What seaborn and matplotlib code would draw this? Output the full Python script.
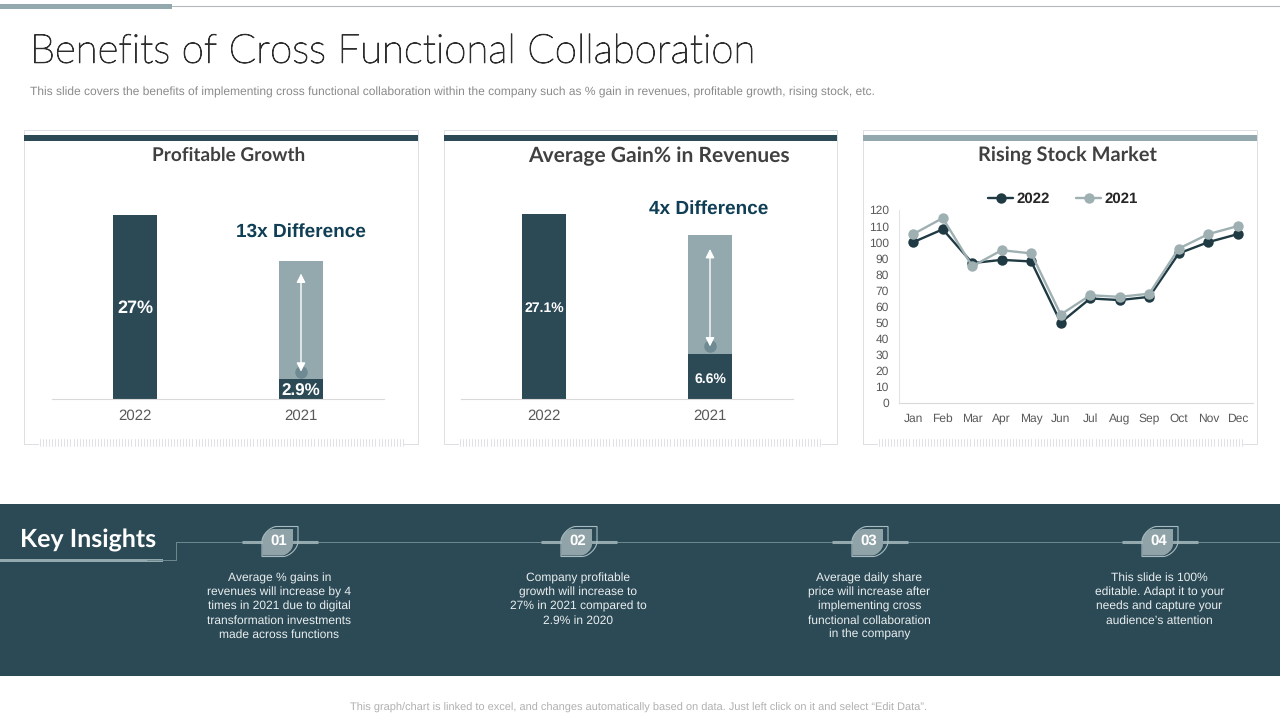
import numpy as np
import seaborn as sns
import matplotlib
matplotlib.use('Agg')
import matplotlib.pyplot as plt
import matplotlib.patheffects as pe
from matplotlib.path import Path
from matplotlib.patches import PathPatch, Rectangle
from matplotlib.lines import Line2D

sns.set_style('white')
plt.rcParams['font.family'] = ['Liberation Sans', 'DejaVu Sans']
plt.rcParams['text.hinting'] = 'none'
plt.rcParams['text.hinting_factor'] = 1

# Data
years = ['2022', '2021']
profit_values = [27, 2.9]
profit_full = [0, 20.3]
revenue_values = [27.1, 6.6]
revenue_full = [0, 24.0]
months = ['Jan', 'Feb', 'Mar', 'Apr', 'May', 'Jun', 'Jul', 'Aug', 'Sep', 'Oct', 'Nov', 'Dec']
stock_2022 = [100, 108, 87, 89, 88, 50, 65, 64, 66, 93, 100, 105]
stock_2021 = [105, 115, 85, 95, 93, 55, 67, 66, 68, 96, 105, 110]
stock_ticks = [0, 10, 20, 30, 40, 50, 60, 70, 80, 90, 100, 110, 120]
insight_labels = ['01', '02', '03', '04']
insights = [
    'Average % gains in\nrevenues will increase by 4\ntimes in 2021 due to digital\ntransformation investments\nmade across functions',
    'Company profitable\ngrowth will increase to\n27% in 2021 compared to\n2.9% in 2020',
    'Average daily share\nprice will increase after\nimplementing cross\nfunctional collaboration\nin the company',
    'This slide is 100%\neditable. Adapt it to your\nneeds and capture your\naudience\u2019s attention',
]

DARK = '#2c4a56'
LIGHT = '#94a9ae'
BORDER = '#dcdfe2'
W, H = 1280, 720
TITLE_FONT = ['Lato', 'DejaVu Sans']

fig = plt.figure(figsize=(12.8, 7.2), dpi=100, facecolor='white')

# Overlay in pixel coordinates for the slide furniture
bg = fig.add_axes([0, 0, 1, 1], zorder=0)
bg.set_xlim(0, W)
bg.set_ylim(H, 0)
bg.axis('off')


def px_axes(left, top, right, bottom):
    ax = fig.add_axes([left / W, 1 - bottom / H, (right - left) / W, (bottom - top) / H], zorder=2)
    ax.patch.set_alpha(0)
    return ax


def card(left, right, colour, title, title_x, title_y, title_size):
    bg.add_patch(Rectangle((left, 130), right - left, 314, fc='white', ec=BORDER, lw=0.7))
    bg.add_patch(Rectangle((left, 135), right - left, 6, fc=colour, ec='none'))
    bg.text(title_x, title_y, title, ha='center', va='center', fontsize=title_size, fontweight='bold',
            color='#404040', family=TITLE_FONT)
    # tick strip along the bottom edge
    bg.add_patch(Rectangle((left + 15, 438), right - left - 30, 9, fc='white', ec='none'))
    for x in np.arange(left + 16, right - 15, 3.05):
        bg.plot([x, x], [439, 446], color='#dfe2e4', lw=0.7)


def bar_chart(left, values, full, arrow_top, arrow_bottom, note, note_x, note_y, label_sizes):
    ax = px_axes(left, 190, left + 332, 399)
    sns.barplot(x=years, y=full, color=LIGHT, width=0.265, saturation=1, linewidth=0, ax=ax)
    sns.barplot(x=years, y=values, color=DARK, width=0.265, saturation=1, linewidth=0, ax=ax)
    ax.set_ylim(0, 209 / 6.82)
    ax.set_xlim(-0.5, 1.5)
    ax.set_yticks([])
    ax.set_ylabel('')
    sns.despine(ax=ax, left=True)
    ax.spines['bottom'].set_color('#d9d9d9')
    ax.tick_params(axis='x', length=0, pad=7.5, labelsize=10.5, labelcolor='#595959')
    ax.text(0, values[0] / 2 - 0.2, f'{values[0]}%', ha='center', va='center', color='white',
            fontweight='bold', fontsize=label_sizes[0])
    ax.text(1, values[1] / 2 - 0.35, f'{values[1]}%', ha='center', va='center', color='white',
            fontweight='bold', fontsize=label_sizes[1])
    ax.plot([1], [arrow_bottom], 'o', ms=8, color='#6f8a93', zorder=3)
    ax.annotate('', xy=(1, arrow_top), xytext=(1, arrow_bottom), zorder=4,
                arrowprops=dict(arrowstyle='<|-|>', color='white', lw=1, shrinkA=0, shrinkB=0,
                                mutation_scale=13))
    bg.text(note_x, note_y, note, ha='center', va='center', fontsize=13.7, fontweight='bold',
            color='#0f3e55')


# Header
bg.plot([172, W], [6, 6], color='#b5b9bb', lw=0.8)
bg.add_patch(Rectangle((0, 4), 172, 4.5, fc=LIGHT, ec='none'))
bg.text(30, 52, 'Benefits of Cross Functional Collaboration', ha='left', va='center',
        fontsize=29, fontweight='light', color='#2e2e2e', family=TITLE_FONT,
        path_effects=[pe.withStroke(linewidth=0.7, foreground='#2e2e2e')])
bg.text(30, 92, 'This slide covers the benefits of implementing cross functional collaboration '
        'within the company such as % gain in revenues, profitable growth, rising stock, etc.',
        ha='left', va='center', fontsize=8.65, color='#8a8a8a')
bg.text(639, 708, 'This graph/chart is linked to excel, and changes automatically based on data. '
        'Just left click on it and select \u201cEdit Data\u201d.',
        ha='center', va='center', fontsize=7.65, color='#b0b0b0')

# Cards
card(24, 418, DARK, 'Profitable Growth', 229, 155, 13.8)
card(444, 837, DARK, 'Average Gain% in Revenues', 658.5, 156, 15)
card(863, 1257, LIGHT, 'Rising Stock Market', 1067, 156, 14.2)

bar_chart(52, profit_values, profit_full, 18.4, 4.0, '13x Difference', 301, 232, (13, 12.5))
bar_chart(461, revenue_values, revenue_full, 22.0, 7.7, '4x Difference', 709, 209, (10, 10))

# Line chart
ax3 = px_axes(898.5, 210, 1252.5, 403)
sns.lineplot(x=months, y=stock_2022, color='#1f3a43', marker='o', markersize=7.5, linewidth=1.7,
             markeredgewidth=0, sort=False, ax=ax3, zorder=3)
sns.lineplot(x=months, y=stock_2021, color='#9fb0b3', marker='o', markersize=7.5, linewidth=1.7,
             markeredgewidth=0, sort=False, ax=ax3, zorder=4)
ax3.set_ylim(0, 120)
ax3.set_xlim(-0.5, 11.5)
ax3.set_yticks(stock_ticks)
sns.despine(ax=ax3)
ax3.spines['left'].set_color('#e3e3e3')
ax3.spines['bottom'].set_color('#d9d9d9')
ax3.tick_params(axis='both', length=0, labelsize=8.8, labelcolor='#595959')
ax3.tick_params(axis='x', pad=7)
ax3.tick_params(axis='y', pad=7)
handles = [
    Line2D([], [], color='#1f3a43', marker='o', ms=7.5, lw=1.7, mew=0, label='2022'),
    Line2D([], [], color='#9fb0b3', marker='o', ms=7.5, lw=1.7, mew=0, label='2021'),
]
ax3.legend(handles=handles, loc='center', bbox_to_anchor=((1063 - 898.5) / 354, 1.055), ncol=2, frameon=False,
           handlelength=1.7, handletextpad=0.2, columnspacing=1.85,
           prop={'weight': 'bold', 'size': 10.5}, labelcolor='#262626')

# Key insights band
bg.add_patch(Rectangle((0, 504), W, 172, fc=DARK, ec='none'))
bg.text(20, 540, 'Key Insights', ha='left', va='center', fontsize=18, fontweight='bold',
        color='white', family=TITLE_FONT)
bg.add_patch(Rectangle((0, 558.5), 163, 3.5, fc=LIGHT, ec='none'))
bg.plot([147, 176, 176, W], [560, 560, 541.5, 541.5], color='#6f8a91', lw=0.7)


def leaf(l, t, rt, b, r):
    # box with two opposite rounded corners (top left, bottom right)
    k = r * 0.45
    verts = [(l, b), (l, t + r), (l, t + r - k), (l + r - k, t), (l + r, t), (rt, t), (rt, b - r),
             (rt, b - r + k), (rt - r + k, b), (rt - r, b), (l, b), (l, b)]
    codes = [Path.MOVETO, Path.LINETO, Path.CURVE4, Path.CURVE4, Path.CURVE4, Path.LINETO, Path.LINETO,
             Path.CURVE4, Path.CURVE4, Path.CURVE4, Path.LINETO, Path.CLOSEPOLY]
    return Path(verts, codes)


badge_x = [279, 578, 869, 1159]
for cx, num, txt in zip(badge_x, insight_labels, insights):
    bg.plot([cx - 37, cx + 39], [541.5, 541.5], color=LIGHT, lw=2.2, solid_capstyle='butt')
    bg.add_patch(PathPatch(leaf(cx - 16.5, 529, cx + 14, 555.5, 11), fc='#8fa3a8', ec='none', zorder=3))
    bg.add_patch(PathPatch(leaf(cx - 17, 526.5, cx + 19, 556.5, 15), fc='none', ec='#a9bcc1', lw=0.8, zorder=4))
    bg.text(cx, 541, num, ha='center', va='center', color='white', fontsize=10.5, fontweight='bold', zorder=5)
    bg.text(cx + 0.5, 572.5, txt, ha='center', va='top', color='#e9eeef', fontsize=8.85, linespacing=1.33)

fig.savefig('out.png', dpi=100)
